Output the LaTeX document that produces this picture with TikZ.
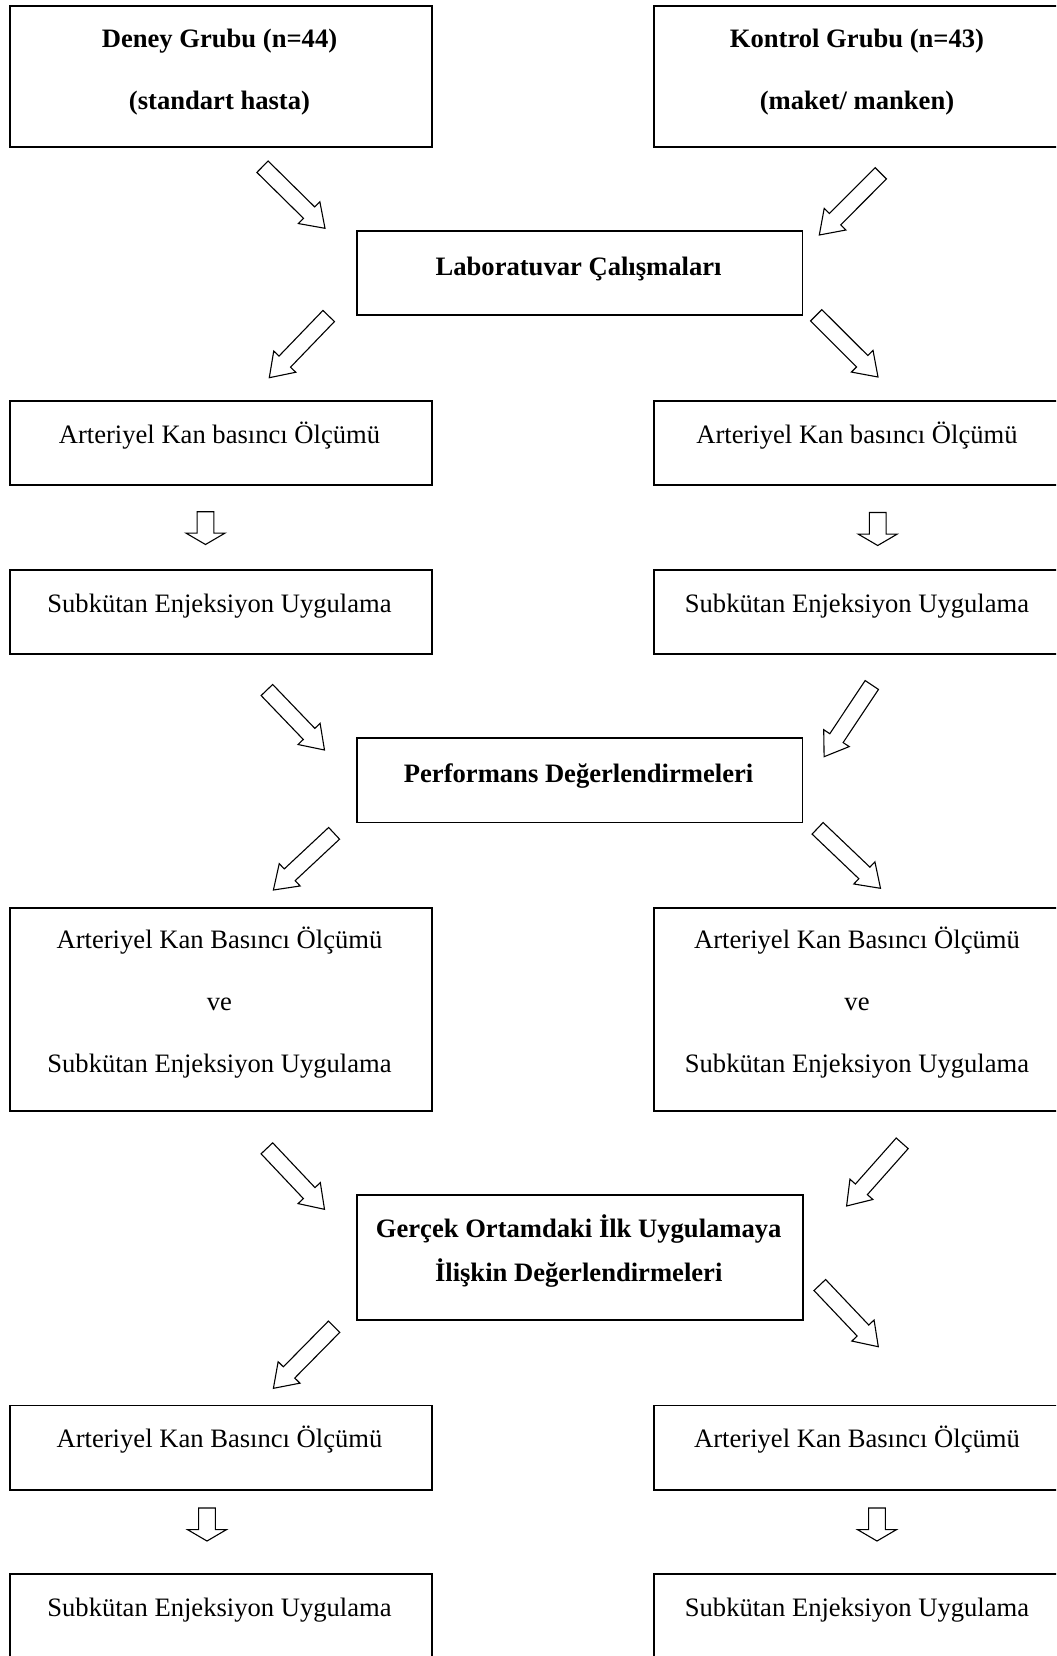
\documentclass[tikz,border=0pt]{standalone}
\usepackage{fontspec}
\setmainfont{Liberation Serif}
\usetikzlibrary{calc}
\tikzset{
  box/.style={draw, line width=0.9pt, rectangle, inner sep=0pt, anchor=north west},
  txt/.style={inner sep=0pt, anchor=base, font=\fontsize{13.3}{31}\selectfont},
  btxt/.style={inner sep=0pt, anchor=base, font=\bfseries\fontsize{13.3}{31}\selectfont},
  btxtb/.style={inner sep=0pt, anchor=base, font=\bfseries\fontsize{13.3}{22}\selectfont},
  harrow/.style={draw, line width=0.55pt, fill=white, line join=miter},
}
% #1 tail, #2 tip, #3 shaft half width, #4 head half width, #5 head length
\newcommand\HArrow[5]{%
  \coordinate (#1h) at ($(#2)!#5!(#1)$);
  \draw[harrow] ($(#1)!#3!90:(#2)$) -- ($(#1h)!#3!90:(#2)$) -- ($(#1h)!#4!90:(#2)$)
     -- (#2) -- ($(#1h)!#4!-90:(#2)$) -- ($(#1h)!#3!-90:(#2)$) -- ($(#1)!#3!-90:(#2)$) -- cycle;
}
\newcommand\DiagArrow[2]{\HArrow{#1}{#2}{4pt}{7.65pt}{11.15pt}}
\newcommand\DownArrow[2]{\HArrow{#1}{#2}{4.2pt}{9.75pt}{5.7pt}}
\begin{document}
\begin{tikzpicture}[x=0.5pt,y=-0.5pt]
\path[use as bounding box] (0,0) rectangle (1056,1656);
\clip (0,0) rectangle (1056,1656);

% boxes
\node[box, minimum width=211.15pt, minimum height=70.35pt] (deney) at (8.7,5) {};
\node[box, minimum width=211pt, minimum height=70.35pt] (kontrol) at (653,5) {};
\node[box, minimum width=222.9pt, minimum height=42.15pt] (lab) at (355.7,230) {};
\node[box, minimum width=211.15pt, minimum height=42pt] (r1L) at (8.7,400) {};
\node[box, minimum width=211pt, minimum height=42pt] (r1R) at (653,400) {};
\node[box, minimum width=211.15pt, minimum height=42pt] (r2L) at (8.7,569) {};
\node[box, minimum width=211pt, minimum height=42pt] (r2R) at (653,569) {};
\node[box, minimum width=222.9pt, minimum height=42.3pt] (perf) at (355.7,737) {};
\node[box, minimum width=211.15pt, minimum height=101.65pt] (r3L) at (8.7,906.7) {};
\node[box, minimum width=211pt, minimum height=101.65pt] (r3R) at (653,906.7) {};
\node[box, minimum width=223pt, minimum height=62.5pt] (ger) at (355.7,1194.3) {};
\node[box, minimum width=211.15pt, minimum height=42.25pt] (r4L) at (8.7,1404.5) {};
\node[box, minimum width=211pt, minimum height=42.25pt] (r4R) at (653,1404.5) {};
\node[box, minimum width=211.15pt, minimum height=45pt] (r5L) at (8.7,1573.3) {};
\node[box, minimum width=211pt, minimum height=45pt] (r5R) at (653,1573.3) {};

% texts
\node[btxt] (deneyT) at (219.5,47) {\begin{tabular}[t]{@{}c@{}}Deney Grubu (n=44)\\(standart hasta)\end{tabular}};
\node[btxt] (kontrolT) at (857,47) {\begin{tabular}[t]{@{}c@{}}Kontrol Grubu (n=43)\\(maket/ manken)\end{tabular}};
\node[btxt] (labT) at (578.6,275) {Laboratuvar Çalışmaları};
\node[txt] (r1LT) at (219.5,443) {Arteriyel Kan basıncı Ölçümü};
\node[txt] (r1RT) at (857,443) {Arteriyel Kan basıncı Ölçümü};
\node[txt] (r2LT) at (219.5,612) {Subkütan Enjeksiyon Uygulama};
\node[txt] (r2RT) at (857,612) {Subkütan Enjeksiyon Uygulama};
\node[btxt] (perfT) at (578.6,782) {Performans Değerlendirmeleri};
\node[txt] (r3LT) at (219.5,948.7) {\begin{tabular}[t]{@{}c@{}}Arteriyel Kan Basıncı Ölçümü\\ve\\Subkütan Enjeksiyon Uygulama\end{tabular}};
\node[txt] (r3RT) at (857,948.7) {\begin{tabular}[t]{@{}c@{}}Arteriyel Kan Basıncı Ölçümü\\ve\\Subkütan Enjeksiyon Uygulama\end{tabular}};
\node[btxtb] (gerT) at (578.7,1237.5) {\begin{tabular}[t]{@{}c@{}}Gerçek Ortamdaki İlk Uygulamaya\\İlişkin Değerlendirmeleri\end{tabular}};
\node[txt] (r4LT) at (219.5,1447.5) {Arteriyel Kan Basıncı Ölçümü};
\node[txt] (r4RT) at (857,1447.5) {Arteriyel Kan Basıncı Ölçümü};
\node[txt] (r5LT) at (219.5,1616.3) {Subkütan Enjeksiyon Uygulama};
\node[txt] (r5RT) at (857,1616.3) {Subkütan Enjeksiyon Uygulama};

% arrow end points
\coordinate (a1t) at (262.5,166.7);  \coordinate (a1p) at (325,228.3);
\coordinate (a2t) at (880.8,173.3);  \coordinate (a2p) at (819.3,235);
\coordinate (a3t) at (328.7,316);    \coordinate (a3p) at (269.3,377.7);
\coordinate (a4t) at (816.2,315.3);  \coordinate (a4p) at (878,377);
\coordinate (d1t) at (205.5,511.7);  \coordinate (d1p) at (205.5,544.5);
\coordinate (d2t) at (877.7,512.5);  \coordinate (d2p) at (877.7,545.5);
\coordinate (a5t) at (266.9,690);    \coordinate (a5p) at (324.5,750);
\coordinate (a6t) at (871.8,685);    \coordinate (a6p) at (824.1,756.7);
\coordinate (a7t) at (334.1,833.3);  \coordinate (a7p) at (273.4,890);
\coordinate (a8t) at (817.6,828.3);  \coordinate (a8p) at (880.5,888.3);
\coordinate (a9t) at (266.9,1148.3); \coordinate (a9p) at (324.5,1209.3);
\coordinate (a10t) at (902.2,1143.3); \coordinate (a10p) at (846.6,1206);
\coordinate (a11t) at (334.1,1326.7); \coordinate (a11p) at (273.4,1388.3);
\coordinate (a12t) at (819.8,1285);  \coordinate (a12p) at (878.3,1346.7);
\coordinate (d3t) at (207,1508);     \coordinate (d3p) at (207,1541);
\coordinate (d4t) at (877,1508);     \coordinate (d4p) at (877,1541);

% arrows
\DiagArrow{a1t}{a1p}
\DiagArrow{a2t}{a2p}
\DiagArrow{a3t}{a3p}
\DiagArrow{a4t}{a4p}
\DownArrow{d1t}{d1p}
\DownArrow{d2t}{d2p}
\DiagArrow{a5t}{a5p}
\DiagArrow{a6t}{a6p}
\DiagArrow{a7t}{a7p}
\DiagArrow{a8t}{a8p}
\DiagArrow{a9t}{a9p}
\DiagArrow{a10t}{a10p}
\DiagArrow{a11t}{a11p}
\DiagArrow{a12t}{a12p}
\DownArrow{d3t}{d3p}
\DownArrow{d4t}{d4p}
\end{tikzpicture}
\end{document}
